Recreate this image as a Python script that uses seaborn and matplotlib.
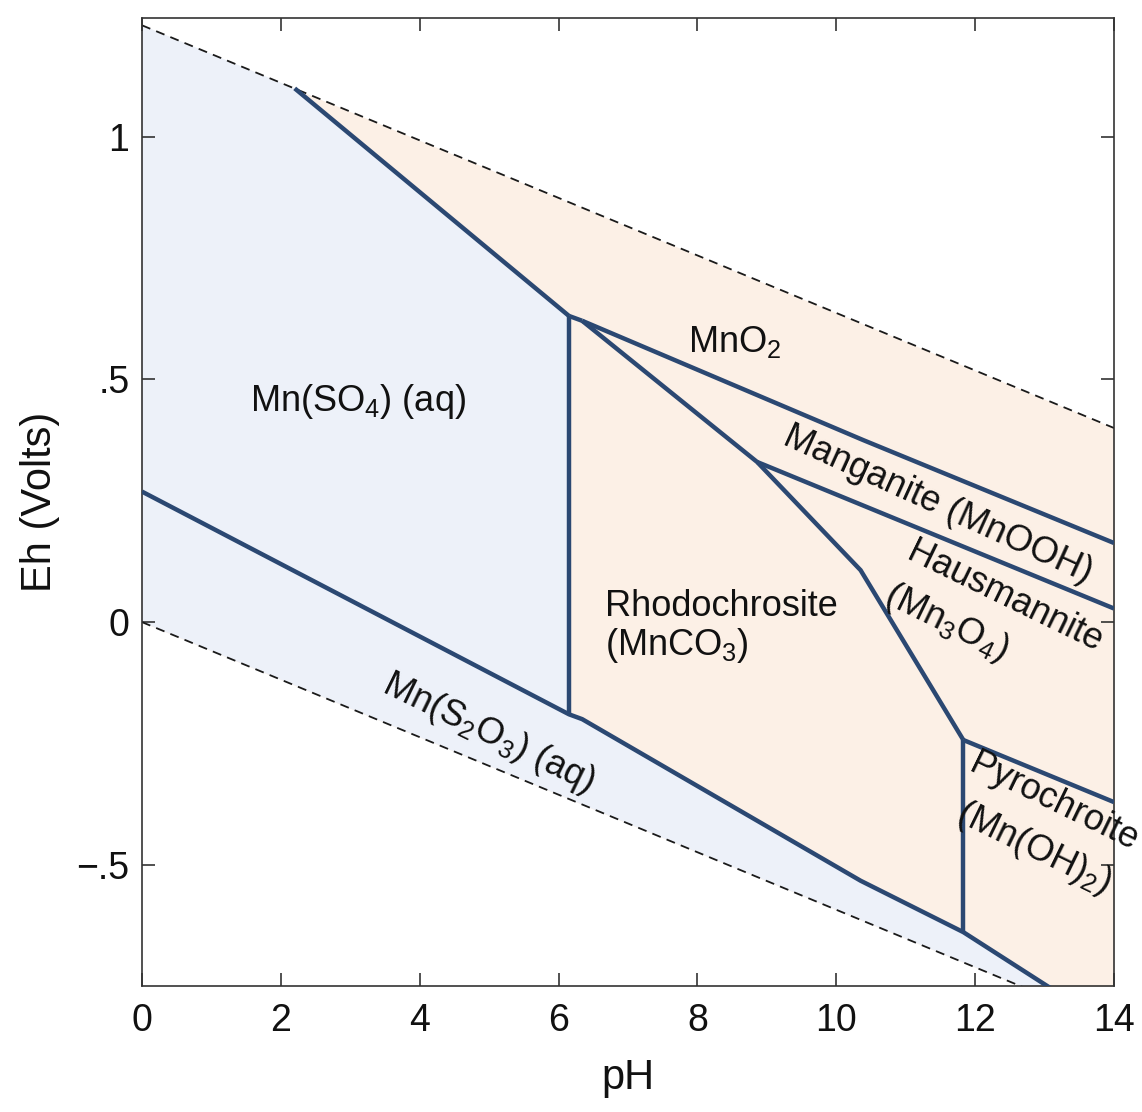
import matplotlib
matplotlib.use("Agg")
import matplotlib.pyplot as plt
import seaborn as sns
import numpy as np
import pandas as pd

# ---------------- data (pH, Eh in volts) ----------------
# water stability limits (dashed)
upper_water_ph = [0, 14]
upper_water_eh = [1.23, 0.40]
lower_water_ph = [0, 14]
lower_water_eh = [0.0, -0.83]

# Mn(SO4)(aq) / MnO2 boundary
so4_mno2_ph = [2.20, 6.15]
so4_mno2_eh = [1.10, 0.631]
# Mn(SO4)(aq) / Rhodochrosite vertical boundary
so4_rhodo_ph = [6.15, 6.15]
so4_rhodo_eh = [0.631, -0.19]
# short joint segment
joint_ph = [6.15, 6.34]
joint_eh = [0.631, 0.621]
# MnO2 / Manganite
mno2_mang_ph = [6.34, 10.39, 14.0]
mno2_mang_eh = [0.621, 0.375, 0.163]
# Rhodochrosite upper boundary (MnO2, Manganite, Hausmannite)
rhodo_top_ph = [6.34, 8.86, 10.35, 11.83]
rhodo_top_eh = [0.621, 0.330, 0.107, -0.243]
# Manganite / Hausmannite
mang_haus_ph = [8.86, 14.0]
mang_haus_eh = [0.330, 0.028]
# Hausmannite / Pyrochroite
haus_pyro_ph = [11.83, 14.0]
haus_pyro_eh = [-0.243, -0.371]
# Rhodochrosite / Pyrochroite vertical
rhodo_pyro_ph = [11.83, 11.83]
rhodo_pyro_eh = [-0.243, -0.639]
# sulfate / thiosulfate and solids lower boundary
lower_ph = [0.0, 6.15, 6.34, 10.35, 11.83, 13.06, 13.6]
lower_eh = [0.269, -0.19, -0.20, -0.533, -0.639, -0.752, -0.802]

labels = [
    ("MnO$\\mathregular{_2}$", 8.54, 0.577, 0),
    ("Mn(SO$\\mathregular{_4}$) (aq)", 3.11, 0.454, 0),
    ("Manganite (MnOOH)", 11.47, 0.243, -24.5),
    ("Hausmannite", 12.42, 0.052, -26),
    ("(Mn$\\mathregular{_3}$O$\\mathregular{_4}$)", 11.58, -0.002, -26),
    ("Pyrochroite", 13.13, -0.371, -26),
    ("(Mn(OH)$\\mathregular{_2}$)", 12.84, -0.466, -26),
    ("Mn(S$\\mathregular{_2}$O$\\mathregular{_3}$) (aq)", 4.99, -0.229, -26),
]
rhodo_label = "Rhodochrosite\n(MnCO$\\mathregular{_3}$)"
rhodo_pos = (6.67, -0.01)

x_ticks = [0, 2, 4, 6, 8, 10, 12, 14]
y_ticks = [1.0, 0.5, 0.0, -0.5]
y_ticklabels = ["1", ".5", "0", "\u2212.5"]

# ---------------- style ----------------
sns.set_theme(style="ticks")
plt.rcParams["font.family"] = ["Liberation Sans", "DejaVu Sans"]
plt.rcParams["mathtext.fontset"] = "custom"
plt.rcParams["mathtext.rm"] = "Liberation Sans"
plt.rcParams["mathtext.it"] = "Liberation Sans:italic"
plt.rcParams["mathtext.bf"] = "Liberation Sans:bold"

LINE = "#2B4872"
BLUE = "#EDF1F9"
PEACH = "#FCF0E6"

fig = plt.figure(figsize=(11.42, 11.12), dpi=100)
ax = fig.add_axes([0.1243, 0.1133, 0.8512, 0.8705])

# fills
xs = np.array(upper_water_ph, dtype=float)
ax.fill_between(xs, np.array(lower_water_eh), np.array(upper_water_eh),
                color=PEACH, lw=0, zorder=0)
blue_x = ([upper_water_ph[0]] + so4_mno2_ph + [so4_rhodo_ph[1]] + lower_ph[1:]
          + [lower_ph[-1], lower_water_ph[0]])
blue_y = ([upper_water_eh[0]] + so4_mno2_eh + [so4_rhodo_eh[1]] + lower_eh[1:]
          + [np.interp(lower_ph[-1], lower_water_ph, lower_water_eh), lower_water_eh[0]])
ax.fill(blue_x, blue_y, color=BLUE, lw=0, zorder=0)

# dashed water lines
for px, py in [(upper_water_ph, upper_water_eh), (lower_water_ph, lower_water_eh)]:
    sns.lineplot(x=px, y=py, ax=ax, color="#1a1a1a", lw=1.3, sort=False,
                 estimator=None, linestyle=(0, (5, 3.5)), zorder=2)

# boundaries
segments = [
    (so4_mno2_ph, so4_mno2_eh), (so4_rhodo_ph, so4_rhodo_eh), (joint_ph, joint_eh),
    (mno2_mang_ph, mno2_mang_eh), (rhodo_top_ph, rhodo_top_eh),
    (mang_haus_ph, mang_haus_eh), (haus_pyro_ph, haus_pyro_eh),
    (rhodo_pyro_ph, rhodo_pyro_eh), (lower_ph, lower_eh),
]
for px, py in segments:
    df = pd.DataFrame({"pH": px, "Eh": py})
    sns.lineplot(data=df, x="pH", y="Eh", ax=ax, color=LINE, lw=3.2, sort=False,
                 estimator=None, zorder=3, solid_joinstyle="miter",
                 solid_capstyle="butt")

# labels
for txt, x, y, rot in labels:
    ax.text(x, y, txt, fontsize=26, ha="center", va="center", rotation=rot,
            rotation_mode="anchor", color="#111111", zorder=4, clip_on=False)
ax.text(rhodo_pos[0], rhodo_pos[1], rhodo_label, fontsize=26, ha="left",
        va="center", color="#111111", linespacing=1.1, zorder=4)

ax.set_xlim(0, 14)
ax.set_ylim(-0.75, 1.245)
ax.set_xticks(x_ticks)
ax.set_xticklabels([str(t) for t in x_ticks])
ax.set_yticks(y_ticks)
ax.set_yticklabels(y_ticklabels)
ax.tick_params(direction="in", length=9.5, width=1.1, top=True, right=True,
               labelsize=27, colors="#222222", labelcolor="#111111")
ax.tick_params(axis="x", pad=12)
ax.tick_params(axis="y", pad=9)
for s in ax.spines.values():
    s.set_color("#333333")
    s.set_linewidth(1.2)
    s.set_visible(True)
ax.set_xlabel("pH", fontsize=30, labelpad=14, color="#111111")
ax.set_ylabel("Eh (Volts)", fontsize=30, labelpad=12, color="#111111")
ax.set_facecolor("white")

fig.savefig("out.png", dpi=100)
